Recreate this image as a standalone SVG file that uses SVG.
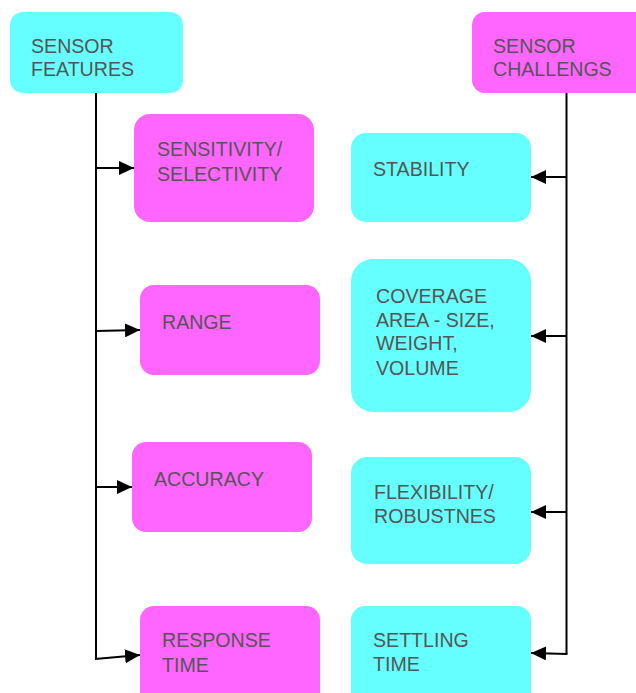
<svg xmlns="http://www.w3.org/2000/svg" width="636" height="693" viewBox="0 0 636 693">
<style>
.c{fill:#66FFFF}
.m{fill:#FF66FF}
text{font-family:"Liberation Sans",Arial,sans-serif;font-size:19.6px;fill:#555555}
.ln{fill:none;stroke:#000;stroke-width:2}
</style>
<defs>
<marker id="ah" markerUnits="userSpaceOnUse" markerWidth="16" markerHeight="14" refX="15" refY="7" orient="auto">
<path d="M0,0 L15,7 L0,14 Z" fill="#000"/>
</marker>
</defs>
<rect width="636" height="693" fill="#fff"/>
<g id="connectors">
<polyline class="ln" points="96,93 96,659"/>
<line class="ln" x1="96" y1="168" x2="134" y2="168" marker-end="url(#ah)"/>
<line class="ln" x1="96" y1="331" x2="140" y2="330" marker-end="url(#ah)"/>
<line class="ln" x1="96" y1="487" x2="132" y2="487" marker-end="url(#ah)"/>
<line class="ln" x1="95" y1="659" x2="140" y2="655" marker-end="url(#ah)"/>
<polyline class="ln" points="566.5,93 566.5,654"/>
<line class="ln" x1="567" y1="177" x2="531" y2="177" marker-end="url(#ah)"/>
<line class="ln" x1="567" y1="336" x2="531" y2="336" marker-end="url(#ah)"/>
<line class="ln" x1="567" y1="512" x2="531" y2="512" marker-end="url(#ah)"/>
<line class="ln" x1="567.5" y1="654" x2="531" y2="653" marker-end="url(#ah)"/>
</g>
<g id="sensor-features">
<rect class="c" x="10" y="12" width="173" height="81" rx="13"/>
<text x="31" y="53">SENSOR</text>
<text x="31" y="76">FEATURES</text>
</g>
<g id="sensitivity">
<rect class="m" x="134" y="114" width="180" height="108" rx="16"/>
<text x="157" y="156">SENSITIVITY/</text>
<text x="157" y="181">SELECTIVITY</text>
</g>
<g id="range">
<rect class="m" x="140" y="285" width="180" height="90" rx="14"/>
<text x="162" y="329">RANGE</text>
</g>
<g id="accuracy">
<rect class="m" x="132" y="442" width="180" height="90" rx="14"/>
<text x="154" y="486">ACCURACY</text>
</g>
<g id="response-time">
<rect class="m" x="140" y="606" width="180" height="100" rx="14"/>
<text x="162" y="647">RESPONSE</text>
<text x="162" y="672">TIME</text>
</g>
<g id="sensor-challengs">
<rect class="m" x="472" y="12" width="180" height="81" rx="13"/>
<text x="493" y="53">SENSOR</text>
<text x="493" y="76">CHALLENGS</text>
</g>
<g id="stability">
<rect class="c" x="351" y="133" width="180" height="89" rx="15"/>
<text x="373" y="176">STABILITY</text>
</g>
<g id="coverage">
<rect class="c" x="351" y="259" width="180" height="153" rx="22"/>
<text x="376" y="303">COVERAGE</text>
<text x="376" y="327">AREA - SIZE,</text>
<text x="376" y="350">WEIGHT,</text>
<text x="376" y="375">VOLUME</text>
</g>
<g id="flexibility">
<rect class="c" x="351" y="457" width="180" height="107" rx="16"/>
<text x="374" y="499">FLEXIBILITY/</text>
<text x="374" y="523">ROBUSTNES</text>
</g>
<g id="settling-time">
<rect class="c" x="351" y="606" width="180" height="100" rx="14"/>
<text x="373" y="647">SETTLING</text>
<text x="373" y="671">TIME</text>
</g>
</svg>
